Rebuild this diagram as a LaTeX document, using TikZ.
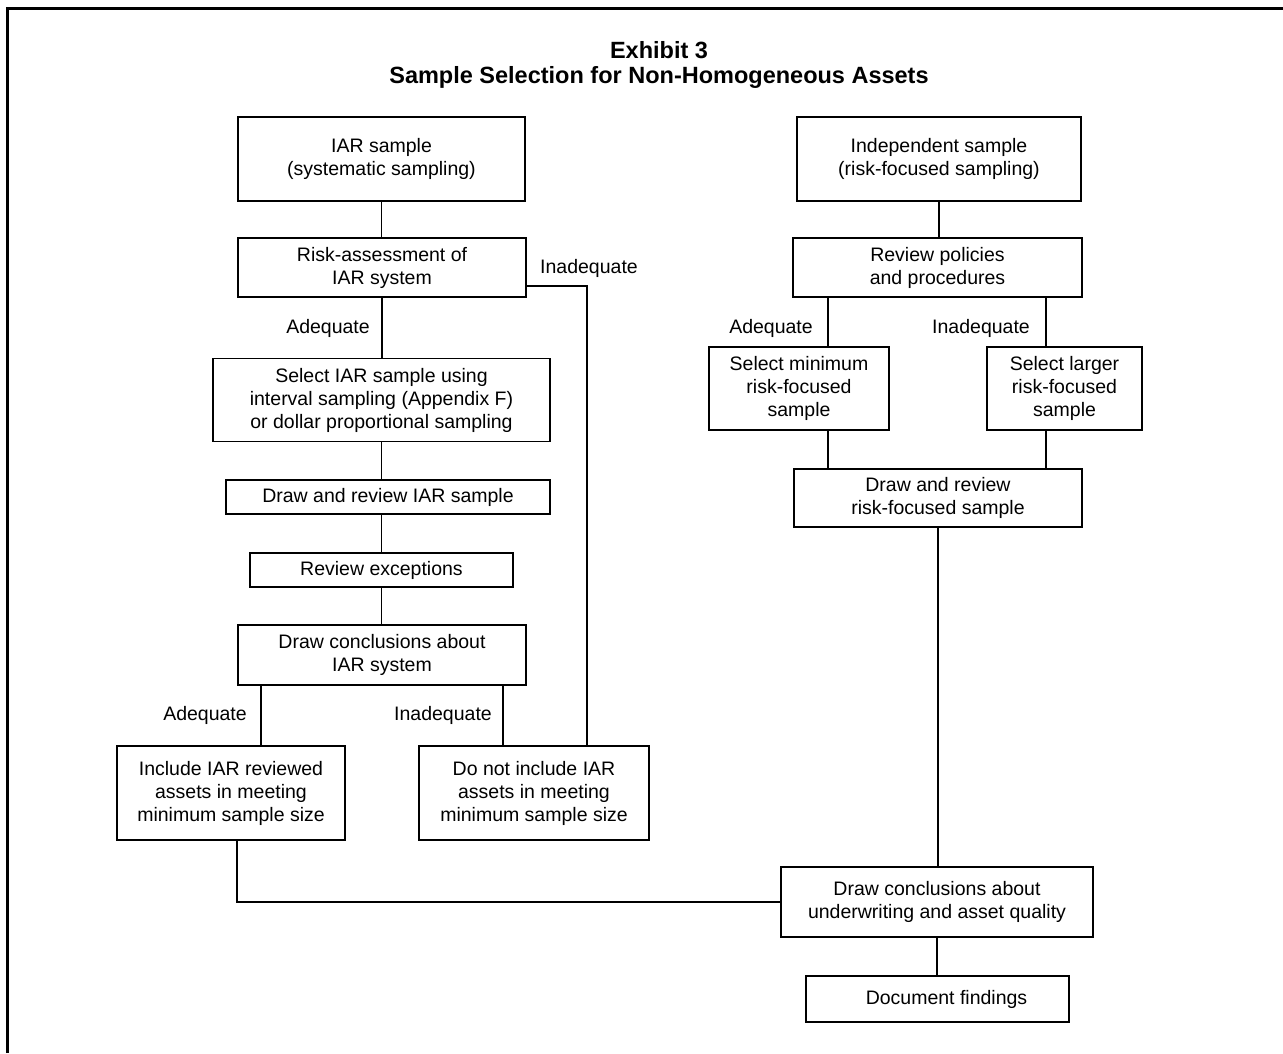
\documentclass[tikz,border=0pt]{standalone}
\usepackage{fontspec}
\setmainfont{Liberation Sans}
\usetikzlibrary{calc}

\begin{document}
\begin{tikzpicture}[x=1pt,y=-1pt,line width=1.9pt,
    box/.style={draw,line width=1.9pt,inner sep=0pt,align=center,
      font=\fontsize{19.5}{23}\selectfont},
    lbl/.style={inner sep=0pt,font=\fontsize{19.5}{23}\selectfont}]
  \useasboundingbox (0,0) rectangle (1283,1053);

  % frame (top and left only)
  \coordinate (fl) at (7.5,1053);
  \coordinate (ft) at (1283,8.5);
  \draw[line width=2.4pt] (fl) |- (ft);

  % title
  \node[font=\bfseries\fontsize{23.5}{25}\selectfont,align=center] (title) at (659,65)
    {Exhibit 3\\Sample Selection for Non-Homogeneous Assets};

  % left column: IAR sample
  \node[box,minimum width=287,minimum height=84] (iar) at (381.5,159) {IAR sample\\(systematic sampling)};
  \node[box,minimum width=288,minimum height=59] (risk) at (382,267.5) {Risk-assessment of\\IAR system};
  \node[box,minimum width=337,minimum height=83] (seliar) at (381.5,400)
    {Select IAR sample using\\interval sampling (Appendix F)\\or dollar proportional sampling};
  \node[box,minimum width=324,minimum height=34] (drawiar) at (388,497) {Draw and review IAR sample};
  \node[box,minimum width=263,minimum height=34] (exc) at (381.5,570) {Review exceptions};
  \node[box,minimum width=288,minimum height=60] (concl) at (382,655) {Draw conclusions about\\IAR system};
  \node[box,minimum width=228,minimum height=94] (incl) at (231,793)
    {Include IAR reviewed\\assets in meeting\\minimum sample size};
  \node[box,minimum width=230,minimum height=94] (notincl) at (534,793)
    {Do not include IAR\\assets in meeting\\minimum sample size};

  % right column: independent sample
  \node[box,minimum width=284,minimum height=84] (indep) at (939,159) {Independent sample\\(risk-focused sampling)};
  \node[box,minimum width=289,minimum height=59] (pol) at (937.5,267.5) {Review policies\\and procedures};
  \node[box,minimum width=180,minimum height=83] (selmin) at (799,388.5) {Select minimum\\risk-focused\\sample};
  \node[box,minimum width=155,minimum height=83] (sellarge) at (1064.5,388.5) {Select larger\\risk-focused\\sample};
  \node[box,minimum width=288,minimum height=58] (drawrisk) at (938,498) {Draw and review\\risk-focused sample};
  \node[box,minimum width=312,minimum height=70] (under) at (937,902) {Draw conclusions about\\underwriting and asset quality};
  \node[box,minimum width=263,minimum height=46] (doc) at (937.5,999) {\hspace*{18pt}Document findings};

  % branch labels
  \node[lbl] (adq1) at (328,328) {Adequate};
  \node[lbl] (inad1) at (589,268) {Inadequate};
  \node[lbl] (adq2) at (205,715) {Adequate};
  \node[lbl] (inad2) at (443,715) {Inadequate};
  \node[lbl] (adq3) at (771,328) {Adequate};
  \node[lbl] (inad3) at (981,328) {Inadequate};

  % connectors
  \draw (iar.south) -- (iar.south |- risk.north);
  \draw (risk.south) -- (risk.south |- seliar.north);
  \draw (risk.east |- 0,286) -| (587,0 |- notincl.north);
  \draw (seliar.south) -- (seliar.south |- drawiar.north);
  \draw (exc.north |- drawiar.south) -- (exc.north);
  \draw (exc.south) -- (exc.south |- concl.north);
  \draw (261,0 |- concl.south) -- (261,0 |- incl.north);
  \draw (503,0 |- concl.south) -- (503,0 |- notincl.north);
  \draw (indep.south) -- (indep.south |- pol.north);
  \draw (828,0 |- pol.south) -- (828,0 |- selmin.north);
  \draw (1046,0 |- pol.south) -- (1046,0 |- sellarge.north);
  \draw (828,0 |- selmin.south) -- (828,0 |- drawrisk.north);
  \draw (1046,0 |- sellarge.south) -- (1046,0 |- drawrisk.north);
  \draw (drawrisk.south) -- (drawrisk.south |- under.north);
  \draw (237,0 |- incl.south) |- (under.west);
  \draw (under.south) -- (under.south |- doc.north);
\end{tikzpicture}
\end{document}
